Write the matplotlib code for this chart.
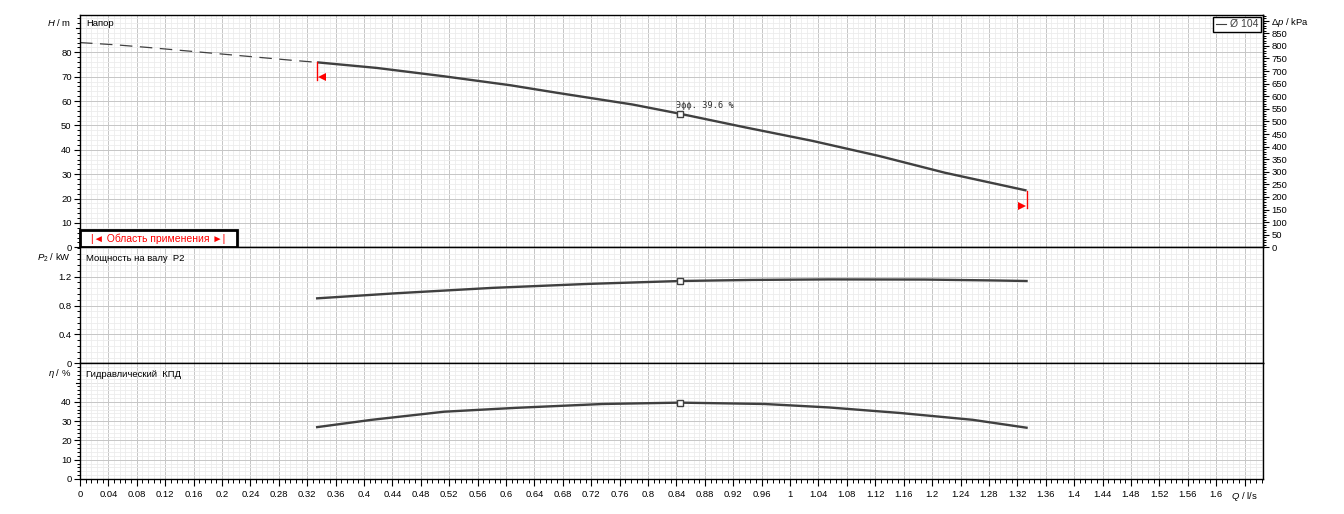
import numpy as np
import matplotlib
matplotlib.use("Agg")
import matplotlib.pyplot as plt
from matplotlib.patches import Rectangle
from matplotlib.lines import Line2D
from matplotlib.ticker import MultipleLocator, FixedLocator, FixedFormatter

plt.rcParams['font.family'] = ['Liberation Sans', 'DejaVu Sans']
plt.rcParams['mathtext.fontset'] = 'custom'
plt.rcParams['mathtext.rm'] = 'Liberation Sans'
plt.rcParams['mathtext.it'] = 'Liberation Sans:italic'

# Напор, пунктир (вне рабочей области)
q_dash = [0.0, 0.05, 0.10, 0.15, 0.20, 0.25, 0.30, 0.334]
h_dash = [84.0, 83.1, 81.9, 80.6, 79.3, 78.0, 76.7, 75.9]

# Напор, рабочая область
q_head = [0.334, 0.418, 0.512, 0.606, 0.674, 0.778, 0.845, 0.937, 1.031, 1.125, 1.218, 1.333]
h_head = [75.9, 73.6, 70.2, 66.5, 63.3, 58.6, 54.8, 49.2, 43.7, 37.5, 30.6, 23.3]

# Мощность на валу P2
q_power = [0.334, 0.445, 0.581, 0.716, 0.845, 0.946, 1.055, 1.190, 1.285, 1.333]
p_power = [0.90, 0.97, 1.045, 1.10, 1.14, 1.155, 1.162, 1.16, 1.148, 1.14]

# Гидравлический КПД
q_eff = [0.334, 0.411, 0.513, 0.614, 0.736, 0.845, 0.964, 1.055, 1.156, 1.257, 1.333]
eta_eff = [26.9, 30.7, 34.9, 36.9, 38.9, 39.6, 38.9, 37.1, 34.2, 30.7, 26.6]

# рабочая точка
q_duty = 0.845
h_duty = 54.8
p_duty = 1.14
eta_duty = 39.6

# границы области применения
q_min, q_max = 0.334, 1.333
h_min_top, h_min_bot, h_min_mark = 75.9, 68.8, 69.9
h_max_top, h_max_bot, h_max_mark = 23.3, 16.1, 17.1

KPA_PER_M = 9.68
X_MAX = 1.666

CURVE = '#404040'
FS = 6.8

fig = plt.figure(figsize=(13.44, 5.14), dpi=100)
L, W = 80 / 1344, 1183 / 1344
ax_h = fig.add_axes([L, 1 - 247.3 / 514, W, 232 / 514])
ax_p = fig.add_axes([L, 1 - 363.3 / 514, W, 116 / 514])
ax_e = fig.add_axes([L, 1 - 479 / 514, W, 115.7 / 514])

GRID_MAJ = '#c6c6c6'
GRID_MIN = '#ececec'


def style(ax, ymax, major, minor, labels=None):
    ax.set_xlim(0, X_MAX)
    ax.set_ylim(0, ymax)
    ax.xaxis.set_major_locator(MultipleLocator(0.04))
    ax.xaxis.set_minor_locator(MultipleLocator(0.008))
    ax.yaxis.set_major_locator(MultipleLocator(major))
    ax.yaxis.set_minor_locator(MultipleLocator(minor))
    ax.set_axisbelow(True)
    ax.grid(which='minor', color=GRID_MIN, lw=0.6)
    ax.grid(which='major', color=GRID_MAJ, lw=0.7)
    for s in ax.spines.values():
        s.set_color('black')
        s.set_linewidth(1.0)
    ax.tick_params(axis='y', which='major', length=4, width=0.8, labelsize=FS, pad=2)
    ax.tick_params(axis='y', which='minor', length=2.5, width=0.7)
    ax.tick_params(axis='x', which='both', bottom=False, labelbottom=False)
    if labels is not None:
        ax.yaxis.set_major_locator(FixedLocator(labels))
        ax.yaxis.set_major_formatter(FixedFormatter(['%g' % v for v in labels]))


style(ax_h, 95.2, 10, 2, [0, 10, 20, 30, 40, 50, 60, 70, 80])
style(ax_p, 1.607, 0.4, 0.08, [0, 0.4, 0.8, 1.2])
style(ax_e, 60, 10, 2, [0, 10, 20, 30, 40])

# горизонтальная сетка, которую FixedLocator убрал
for ax, extra in ((ax_h, [90]), (ax_e, [50])):
    for v in extra:
        ax.axhline(v, color=GRID_MAJ, lw=0.7, zorder=0.5)
        ax.plot([-0.006, 0], [v, v], color='black', lw=0.8, clip_on=False)

# ось X
xt = np.round(np.arange(0, 1.641, 0.04), 2)
xl = ['%g' % v for v in xt]
xl[-1] = '$Q$ / l/s'
ax_e.tick_params(axis='x', which='both', bottom=True, labelbottom=True)
ax_e.xaxis.set_major_locator(FixedLocator(xt))
ax_e.xaxis.set_major_formatter(FixedFormatter(xl))
ax_e.tick_params(axis='x', which='major', length=5, width=0.8, labelsize=FS, pad=3)
ax_e.tick_params(axis='x', which='minor', length=3, width=0.7)

# правая ось давления
sec = ax_h.secondary_yaxis('right', functions=(lambda h: h * KPA_PER_M, lambda p: p / KPA_PER_M))
pt = list(range(0, 901, 50))
pl = [str(v) for v in pt]
pl[-1] = '$\\Delta p$ / kPa'
sec.yaxis.set_major_locator(FixedLocator(pt))
sec.yaxis.set_major_formatter(FixedFormatter(pl))
sec.yaxis.set_minor_locator(MultipleLocator(10))
sec.tick_params(which='major', length=4, width=0.8, labelsize=FS, pad=2)
sec.tick_params(which='minor', length=2.5, width=0.7)
sec.spines['right'].set_linewidth(1.0)

# кривые
ax_h.plot(q_dash, h_dash, color=CURVE, lw=0.9, ls=(0, (10, 6)))
ax_h.plot(q_head, h_head, color=CURVE, lw=1.7, solid_capstyle='butt')
ax_p.plot(q_power, p_power, color=CURVE, lw=1.7)
ax_e.plot(q_eff, eta_eff, color=CURVE, lw=1.7)

for ax, y in ((ax_h, h_duty), (ax_p, p_duty), (ax_e, eta_duty)):
    ax.plot([q_duty], [y], marker='s', ms=4.5, mfc='white', mec=CURVE, mew=1.0, zorder=5)

ax_h.text(q_duty - 0.005, h_duty + 1.6, 'Эфф. 39.6 %', fontsize=6.2,
          family=['DejaVu Sans Mono'], color='#303030', ha='left', va='bottom')

# границы области применения
ax_h.plot([q_min, q_min], [h_min_top, h_min_bot], color='red', lw=1.0)
ax_h.plot([q_min + 0.0075], [h_min_mark], marker='<', ms=5.5, color='red', mew=0)
ax_h.plot([q_max, q_max], [h_max_top, h_max_bot], color='red', lw=1.0)
ax_h.plot([q_max - 0.0065], [h_max_mark], marker='>', ms=5.5, color='red', mew=0)

# подписи панелей
ax_h.text(0.005, 0.965, 'Напор', transform=ax_h.transAxes, fontsize=FS, va='center')
ax_p.text(0.005, 0.9, 'Мощность на валу  P2', transform=ax_p.transAxes, fontsize=FS, va='center')
ax_e.text(0.005, 0.9, 'Гидравлический  КПД', transform=ax_e.transAxes, fontsize=FS, va='center')

# названия осей
fig.text(71 / 1344, 1 - 23 / 514, '$H$ / m', fontsize=FS, ha='right', va='center')
fig.text(71 / 1344, 1 - 258 / 514, '$P_2$ / kW', fontsize=FS, ha='right', va='center')
fig.text(71 / 1344, 1 - 374 / 514, '$\\eta$ / %', fontsize=FS, ha='right', va='center')

# легенда
leg = ax_h.legend([Line2D([], [], color=CURVE, lw=0.8)], ['Ø 104'], loc='upper right',
                  fontsize=7.5, handlelength=1.0, handletextpad=0.4, borderpad=0.25,
                  borderaxespad=0.15, fancybox=False, edgecolor='black', framealpha=1)
leg.get_frame().set_linewidth(1.0)
for t in leg.get_texts():
    t.set_color('#404040')

# область применения
ax_h.add_patch(Rectangle((0, 0), 0.1327, 0.075, transform=ax_h.transAxes, fc='white',
                         ec='black', lw=2.0, zorder=6, clip_on=False))
ax_h.text(0.066, 0.037, '|◄ Область применения ►|', transform=ax_h.transAxes,
          fontsize=7.5, color='red', ha='center', va='center', zorder=7)

fig.savefig('out.png', dpi=100)
